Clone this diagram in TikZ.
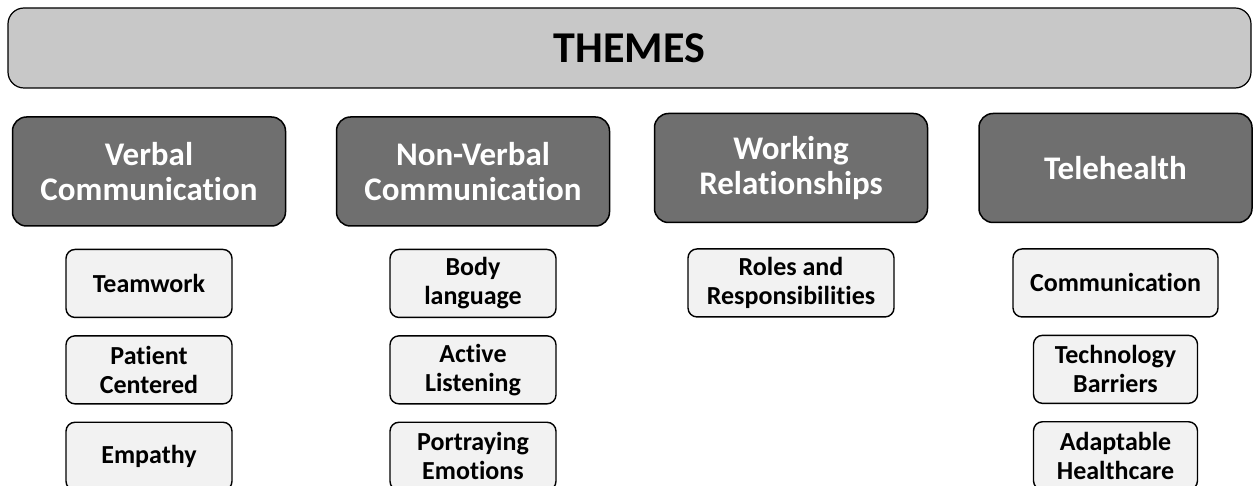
\documentclass[tikz,border=0pt]{standalone}
\usepackage{fontspec}
\setmainfont{Carlito}[Ligatures=NoCommon]
\usepackage{tikz}
\usetikzlibrary{positioning}

\definecolor{bannergray}{HTML}{C8C8C8}
\definecolor{themegray}{HTML}{6F6F6F}
\definecolor{codegray}{HTML}{F2F2F2}

\begin{document}
\begin{tikzpicture}[x=1pt, y=-1pt,
			banner/.style={rectangle, draw=black, line width=1.2pt, rounded corners=16pt,
					fill=bannergray, minimum width=1243pt, minimum height=80pt,
					font=\fontsize{44}{48}\selectfont\bfseries},
			theme/.style={rectangle, draw=black, line width=1.5pt, rounded corners=14pt,
					fill=themegray, text=white, align=center, inner sep=0pt,
					minimum width=273pt, minimum height=109pt,
					font=\fontsize{33}{35}\selectfont\bfseries},
			code/.style={rectangle, draw=black, line width=1.4pt, rounded corners=9pt,
					fill=codegray, align=center, inner sep=0pt,
					minimum width=166pt, minimum height=68pt,
					font=\fontsize{26}{29}\selectfont\bfseries},
			node distance=17pt]
		\useasboundingbox (0,0) rectangle (1254,486);

		% top banner
		\node (themes) [banner] at (629.5,48) {THEMES};

		% the four themes
		\node (verbal) [theme] at (149,171.5) {Verbal\\Communication};
		\node (nonverbal) [theme] at (473,171.5) {Non-Verbal\\Communication};
		\node (working) [theme] at (791,168) {Working\\Relationships};
		\node (telehealth) [theme] at (1115.5,168) {Telehealth};

		% codes under each theme
		\node (teamwork) [code, below=22pt of verbal] {Teamwork};
		\node (patient) [code, below=of teamwork] {Patient\\Centered};
		\node (empathy) [code, below=of patient] {Empathy};

		\node (body) [code, below=22pt of nonverbal] {Body\\language};
		\node (listening) [code, below=of body] {Active\\Listening};
		\node (emotions) [code, below=of listening] {Portraying\\Emotions};

		\node (roles) [code, minimum width=206pt, below=25pt of working] {Roles and\\Responsibilities};

		\node (communication) [code, minimum width=205pt, below=25pt of telehealth] {Communication};
		\node (barriers) [code, minimum width=164pt, below=of communication] {Technology\\Barriers};
		\node (adaptable) [code, minimum width=164pt, below=of barriers] {Adaptable\\Healthcare};
	\end{tikzpicture}
\end{document}
